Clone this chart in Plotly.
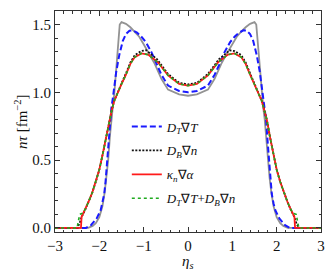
import plotly.graph_objects as go

# ---- data ----
eta_gray = [-3.0, -2.25, -2.15, -2.08, -2.0, -1.93, -1.88, -1.84, -1.80, -1.76, -1.73, -1.70, -1.66,
            -1.62, -1.58, -1.54, -1.5, -1.4, -1.3, -1.2, -1.1, -1.0, -0.9, -0.75, -0.6, -0.45, -0.2,
            0.0,
            0.2, 0.45, 0.6, 0.75, 0.9, 1.0, 1.1, 1.2, 1.3, 1.4, 1.5, 1.54, 1.58, 1.62, 1.66, 1.70,
            1.73, 1.76, 1.80, 1.84, 1.88, 1.93, 2.0, 2.08, 2.15, 2.25, 3.0]
val_gray = [0.0, 0.0, 0.015, 0.035, 0.08, 0.16, 0.26, 0.37, 0.50, 0.68, 0.80, 0.88, 1.00,
            1.15, 1.33, 1.50, 1.518, 1.505, 1.48, 1.447, 1.41, 1.355, 1.30, 1.21, 1.10, 1.02, 0.985,
            0.975,
            0.985, 1.02, 1.10, 1.21, 1.30, 1.355, 1.41, 1.447, 1.48, 1.505, 1.518, 1.50, 1.33, 1.15,
            1.00, 0.88, 0.80, 0.68, 0.50, 0.37, 0.26, 0.16, 0.08, 0.035, 0.015, 0.0, 0.0]

eta_DT = [-3.0, -2.3, -2.19, -2.06, -1.97, -1.93, -1.89, -1.86, -1.83, -1.80, -1.76, -1.73, -1.69,
          -1.62, -1.55, -1.47, -1.4, -1.32, -1.25, -1.15, -1.05, -0.95, -0.83, -0.7, -0.6, -0.45, -0.2,
          0.0,
          0.2, 0.45, 0.6, 0.7, 0.83, 0.95, 1.05, 1.15, 1.25, 1.32, 1.4, 1.47, 1.55, 1.62, 1.69,
          1.73, 1.76, 1.80, 1.83, 1.86, 1.89, 1.93, 1.97, 2.06, 2.19, 2.3, 3.0]
val_DT = [0.0, 0.0, 0.02, 0.07, 0.13, 0.18, 0.25, 0.34, 0.47, 0.62, 0.80, 0.88, 0.97,
          1.15, 1.275, 1.38, 1.43, 1.455, 1.457, 1.44, 1.41, 1.37, 1.30, 1.2, 1.13, 1.05, 1.01,
          1.0,
          1.01, 1.05, 1.13, 1.2, 1.30, 1.37, 1.41, 1.44, 1.457, 1.455, 1.43, 1.38, 1.275, 1.15, 0.97,
          0.88, 0.80, 0.62, 0.47, 0.34, 0.25, 0.18, 0.13, 0.07, 0.02, 0.0, 0.0]

eta_DB = [-3.0, -2.5, -2.45, -2.4, -2.31, -2.24, -2.16, -2.08, -2.0, -1.92, -1.85, -1.78, -1.72,
          -1.66, -1.6, -1.5, -1.4, -1.3, -1.2, -1.05, -0.94, -0.7, -0.45, -0.2,
          0.0,
          0.2, 0.45, 0.7, 0.94, 1.05, 1.2, 1.3, 1.4, 1.5, 1.6, 1.66, 1.72, 1.78, 1.85, 1.92,
          2.0, 2.08, 2.16, 2.24, 2.31, 2.4, 2.45, 2.5, 3.0]
val_DB = [0.0, 0.0, 0.03, 0.08, 0.14, 0.195, 0.26, 0.34, 0.43, 0.55, 0.67, 0.795, 0.87,
          0.94, 0.99, 1.065, 1.14, 1.22, 1.275, 1.305, 1.31, 1.245, 1.135, 1.07,
          1.058,
          1.07, 1.135, 1.245, 1.31, 1.305, 1.275, 1.22, 1.14, 1.065, 0.99, 0.94, 0.87, 0.795, 0.67,
          0.55, 0.43, 0.34, 0.26, 0.195, 0.14, 0.08, 0.03, 0.0, 0.0]

eta_kappa = [-3.0, -2.415, -2.40, -2.31, -2.24, -2.16, -2.08, -2.0, -1.92, -1.85, -1.78, -1.72,
             -1.66, -1.6, -1.5, -1.4, -1.3, -1.2, -1.05, -0.9, -0.68, -0.45, -0.2,
             0.0,
             0.2, 0.45, 0.68, 0.9, 1.05, 1.2, 1.3, 1.4, 1.5, 1.6, 1.66, 1.72, 1.78, 1.85, 1.92,
             2.0, 2.08, 2.16, 2.24, 2.31, 2.40, 2.415, 3.0]
val_kappa = [0.0, 0.0, 0.082, 0.143, 0.195, 0.26, 0.34, 0.43, 0.55, 0.67, 0.795, 0.87,
             0.94, 0.99, 1.06, 1.13, 1.21, 1.26, 1.287, 1.278, 1.222, 1.125, 1.062,
             1.05,
             1.062, 1.125, 1.222, 1.278, 1.287, 1.26, 1.21, 1.13, 1.06, 0.99, 0.94, 0.87, 0.795,
             0.67, 0.55, 0.43, 0.34, 0.26, 0.195, 0.143, 0.082, 0.0, 0.0]

eta_sum = [-3.0, -2.5, -2.48, -2.44, -2.36, -2.31, -2.24, -2.16, -2.08, -2.0, -1.92, -1.85, -1.78,
           -1.72, -1.66, -1.6, -1.5, -1.4, -1.3, -1.2, -1.05, -0.9, -0.68, -0.45, -0.2,
           0.0,
           0.2, 0.45, 0.68, 0.9, 1.05, 1.2, 1.3, 1.4, 1.5, 1.6, 1.66, 1.72, 1.78, 1.85, 1.92,
           2.0, 2.08, 2.16, 2.24, 2.31, 2.36, 2.44, 2.48, 2.5, 3.0]
val_sum = [0.0, 0.0, 0.04, 0.10, 0.11, 0.143, 0.195, 0.26, 0.34, 0.43, 0.55, 0.67, 0.795,
           0.87, 0.94, 0.99, 1.06, 1.13, 1.21, 1.26, 1.287, 1.278, 1.222, 1.125, 1.062,
           1.05,
           1.062, 1.125, 1.222, 1.278, 1.287, 1.26, 1.21, 1.13, 1.06, 0.99, 0.94, 0.87, 0.795,
           0.67, 0.55, 0.43, 0.34, 0.26, 0.195, 0.143, 0.11, 0.10, 0.04, 0.0, 0.0]

x_ticks = [-3, -2, -1, 0, 1, 2, 3]
x_ticklabels = ["\u22123", "\u22122", "\u22121", "0", "1", "2", "3"]
y_ticks = [0.0, 0.5, 1.0, 1.5]
y_ticklabels = ["0.0", "0.5", "1.0", "1.5"]

x_title = "<i>\u03b7<sub>s</sub></i>"
y_title = "<i>n\u03c4</i> [fm<sup>\u22122</sup>]"

name_DT = "<i>D<sub>T</sub></i>\u2207<i>T</i>"
name_DB = "<i>D<sub>B</sub></i>\u2207<i>n</i>"
name_kappa = "<i>\u03ba<sub>n</sub></i>\u2207<i>\u03b1</i>"
name_sum = "<i>D<sub>T</sub></i>\u2207<i>T</i>+<i>D<sub>B</sub></i>\u2207<i>n</i>"

FONT = "Liberation Serif, Times New Roman, serif"

fig = go.Figure()
fig.add_trace(go.Scatter(x=eta_gray, y=val_gray, mode="lines", showlegend=False,
                         line=dict(color="#939393", width=1.8)))
fig.add_trace(go.Scatter(x=eta_DT, y=val_DT, mode="lines", name=name_DT, legendgroup="a",
                         line=dict(color="#1a1aff", width=2, dash="6px,3px")))
fig.add_trace(go.Scatter(x=eta_DB, y=val_DB, mode="lines", name=name_DB, legendgroup="b",
                         line=dict(color="#111111", width=1.8, dash="2px,1.5px")))
fig.add_trace(go.Scatter(x=eta_kappa, y=val_kappa, mode="lines", name=name_kappa, legendgroup="c",
                         line=dict(color="#ff1a1a", width=1.8)))
fig.add_trace(go.Scatter(x=eta_sum, y=val_sum, mode="lines", name=name_sum, legendgroup="d",
                         line=dict(color="#1faa1f", width=1.6, dash="3px,3px")))

axis_common = dict(
    showline=True, linecolor="#333333", linewidth=1, mirror="allticks",
    ticks="inside", ticklen=5, tickwidth=0.8, tickcolor="#333333",
    showgrid=False, zeroline=False, automargin=False,
    tickfont=dict(family=FONT, size=15, color="#111111"),
)

fig.update_xaxes(range=[-3, 3], tickvals=x_ticks, ticktext=x_ticklabels,
                 minor=dict(dtick=0.2, ticks="inside", ticklen=2.5, tickcolor="#333333", showgrid=False),
                 **axis_common)
fig.update_yaxes(range=[-0.03, 1.6], tickvals=y_ticks, ticktext=y_ticklabels,
                 minor=dict(dtick=0.1, ticks="inside", ticklen=2.5, tickcolor="#333333", showgrid=False),
                 **axis_common)

fig.add_annotation(text=x_title, xref="paper", yref="paper", x=0.5, y=-0.135,
                   xanchor="center", yanchor="middle", showarrow=False,
                   font=dict(family=FONT, size=15, color="#111111"))
fig.add_annotation(text=y_title, xref="paper", yref="paper", x=-0.13, y=0.5,
                   xanchor="center", yanchor="middle", showarrow=False, textangle=-90,
                   font=dict(family=FONT, size=15, color="#111111"))

fig.update_layout(
    width=332, height=273,
    margin=dict(l=55, r=11, t=11, b=41),
    paper_bgcolor="white", plot_bgcolor="white",
    legend=dict(x=0.27, y=0.545, xanchor="left", yanchor="top",
                bgcolor="rgba(0,0,0,0)", borderwidth=0,
                font=dict(family=FONT, size=13, color="#111111"),
                tracegroupgap=4),
)

fig.write_html("out.html", config={"displayModeBar": False},
               post_script="document.body.style.margin='0';document.body.style.overflow='hidden';")
